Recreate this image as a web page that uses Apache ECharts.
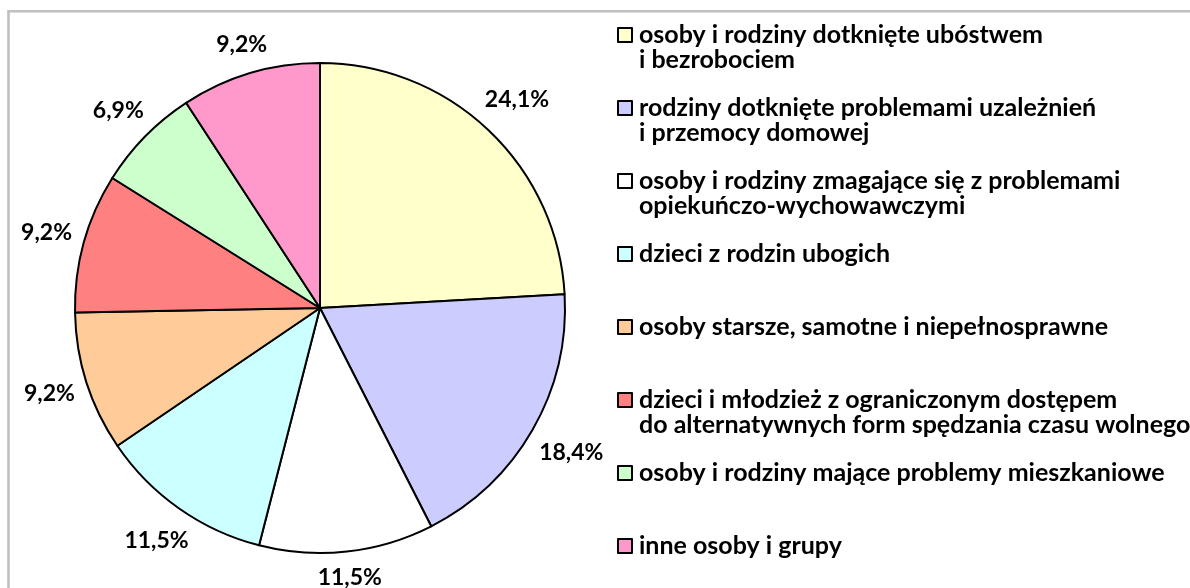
<!DOCTYPE html>
<html>
<head>
<meta charset="utf-8">
<script src="https://cdn.jsdelivr.net/npm/echarts@6/dist/echarts.min.js"></script>
<style>
  html, body { margin: 0; padding: 0; background: #fff; }
  #chart { width: 1190px; height: 588px; }
</style>
</head>
<body>
<div id="chart"></div>
<script>
// ---- data ----
const categories = [
  'osoby i rodziny dotknięte ubóstwem\ni bezrobociem',
  'rodziny dotknięte problemami uzależnień\ni przemocy domowej',
  'osoby i rodziny zmagające się z problemami\nopiekuńczo-wychowawczymi',
  'dzieci z rodzin ubogich',
  'osoby starsze, samotne i niepełnosprawne',
  'dzieci i młodzież z ograniczonym dostępem\ndo alternatywnych form spędzania czasu wolnego',
  'osoby i rodziny mające problemy mieszkaniowe',
  'inne osoby i grupy'
];
const values = [24.1, 18.4, 11.5, 11.5, 9.2, 9.2, 6.9, 9.2];
const colors = ['#FFFFCC', '#CCCCFF', '#FFFFFF', '#CCFFFF', '#FFCC99', '#FF8080', '#CCFFCC', '#FF99CC'];

// ---- layout constants ----
const CX = 320, CY = 308, R = 245, LABEL_GAP = 11;
const FONT = 'Lato, "Open Sans", sans-serif';

const total = values.reduce((a, b) => a + b, 0);
const midAngles = [];
let acc = 0;
values.forEach(v => { midAngles.push((acc + v / 2) / total * 2 * Math.PI); acc += v; });

const chart = echarts.init(document.getElementById('chart'), null, { renderer: 'canvas' });

chart.setOption({
  animation: false,
  backgroundColor: '#ffffff',
  color: colors,
  graphic: [{
    type: 'rect',
    shape: { x: 8.5, y: 11.3, width: 1200, height: 600 },
    style: { fill: 'none', stroke: '#c0c0c0', lineWidth: 2.6 },
    silent: true,
    z: -10
  }],
  legend: {
    orient: 'vertical',
    left: 617,
    top: -2.5,
    padding: 0,
    itemGap: -2,
    itemWidth: 14,
    itemHeight: 14,
    icon: 'rect',
    selectedMode: false,
    itemStyle: { borderColor: '#000000', borderWidth: 2 },
    textStyle: {
      fontFamily: FONT, fontWeight: 'bold', fontSize: 25, lineHeight: 25, color: '#000000',
      padding: [0, 0, 0, 2]
    },
    formatter: function (name) {
      const lines = name.split('\n');
      if (lines.length < 2) lines.push(' ');
      return ' \n' + lines.join('\n');
    },
    data: categories
  },
  series: [{
    type: 'pie',
    center: [CX, CY],
    radius: R,
    startAngle: 90,
    clockwise: true,
    avoidLabelOverlap: false,
    silent: true,
    itemStyle: { borderColor: '#000000', borderWidth: 2 },
    label: {
      show: true,
      position: 'outside',
      fontFamily: FONT, fontWeight: 'bold', fontSize: 23, lineHeight: 24, color: '#000000',
      formatter: function (p) { return p.value.toFixed(1).replace('.', ',') + '%'; }
    },
    labelLine: { show: false, length: 10, length2: 0 },
    labelLayout: function (params) {
      const a = midAngles[params.dataIndex];
      const dx = Math.sin(a), dy = -Math.cos(a);
      const w = params.labelRect.width, h = params.labelRect.height;
      const d = Math.abs(dx) * w / 2 + Math.abs(dy) * h / 2 + LABEL_GAP;
      return {
        x: CX + dx * (R + d),
        y: CY + dy * (R + d),
        align: 'center',
        verticalAlign: 'middle'
      };
    },
    data: categories.map((c, i) => ({ name: c, value: values[i] }))
  }]
});
</script>
</body>
</html>
